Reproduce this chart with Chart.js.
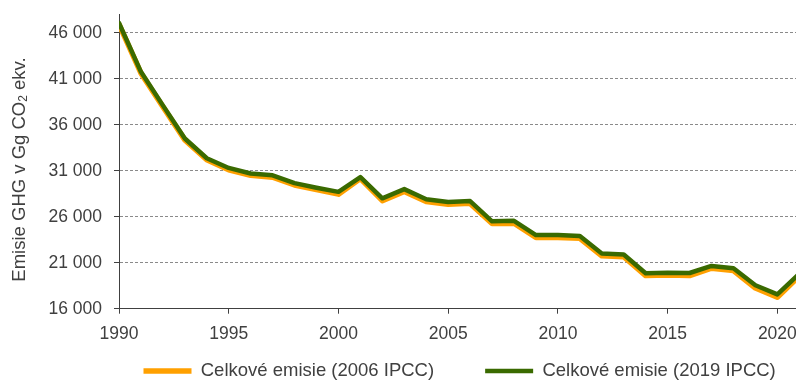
<!DOCTYPE html>
<html>
<head>
<meta charset="utf-8">
<script src="https://cdn.jsdelivr.net/npm/chart.js@4.4.1/dist/chart.umd.min.js"></script>
<style>
  html, body { margin: 0; padding: 0; background: #ffffff; }
  #c { display: block; }
</style>
</head>
<body>
<canvas id="c" width="796" height="381"></canvas>
<script>
// Emise skleníkových plynů (Gg CO2 ekv.), 1990–2021
const years = [1990, 1991, 1992, 1993, 1994, 1995, 1996, 1997, 1998, 1999,
               2000, 2001, 2002, 2003, 2004, 2005, 2006, 2007, 2008, 2009,
               2010, 2011, 2012, 2013, 2014, 2015, 2016, 2017, 2018, 2019,
               2020, 2021];

const emise2006 = [46900, 41600, 37950, 34350, 32200, 31100, 30500, 30300, 29450, 28950,
                   28450, 30150, 27750, 28750, 27650, 27350, 27450, 25250, 25300, 23750,
                   23750, 23650, 21750, 21650, 19600, 19650, 19600, 20400, 20150, 18250,
                   17250, 19550];

const emise2019 = [47050, 41750, 38100, 34500, 32350, 31300, 30700, 30500, 29650, 29150,
                   28700, 30300, 28000, 29000, 27900, 27600, 27700, 25500, 25550, 24000,
                   24000, 23900, 22000, 21900, 19850, 19900, 19880, 20650, 20400, 18550,
                   17550, 19800];

const seriesNames = ['Celkové emisie (2006 IPCC)', 'Celkové emisie (2019 IPCC)'];
const yTickValues = [16000, 21000, 26000, 31000, 36000, 41000, 46000];
const yTickLabels = ['16 000', '21 000', '26 000', '31 000', '36 000', '41 000', '46 000'];
const xTickValues = [1990, 1995, 2000, 2005, 2010, 2015, 2020];
const yTitleMain = 'Emisie GHG v Gg CO';
const yTitleSub = '2';
const yTitleEnd = ' ekv.';

const FONT = "'Liberation Sans', Arial, sans-serif";
const TICK_SIZE = 17.5;
const LABEL_SIZE = 18.5;
const TEXT = '#404040';
const ORANGE = '#FFA000';
const GREEN = '#3A6A00';
const LEGEND_GAP = 51;
const LEGEND_START = 143.5;   // x of the first legend swatch
const LEGEND_MID_Y = 371;     // vertical centre of the legend row

// rotated axis title with a real subscript
const yTitlePlugin = {
  id: 'yTitle',
  afterDraw(chart) {
    const { ctx, chartArea } = chart;
    const big = LABEL_SIZE + 'px ' + FONT;
    const small = Math.round(LABEL_SIZE * 0.65) + 'px ' + FONT;
    ctx.save();
    ctx.fillStyle = TEXT;
    ctx.textBaseline = 'middle';
    ctx.textAlign = 'left';
    ctx.font = big;
    const w1 = ctx.measureText(yTitleMain).width;
    const w3 = ctx.measureText(yTitleEnd).width;
    ctx.font = small;
    const w2 = ctx.measureText(yTitleSub).width;
    const total = w1 + w2 + w3;
    ctx.translate(20, (chartArea.top + chartArea.bottom) / 2 + 8);
    ctx.rotate(-Math.PI / 2);
    let x = -total / 2;
    ctx.font = big;
    ctx.fillText(yTitleMain, x, 0);
    x += w1;
    ctx.font = small;
    ctx.fillText(yTitleSub, x, 4);
    x += w2;
    ctx.font = big;
    ctx.fillText(yTitleEnd, x, 0);
    ctx.restore();
  }
};

// place the legend row under the plot, with wide spacing between entries
const legendPlacePlugin = {
  id: 'legendPlace',
  afterLayout(chart) {
    const lg = chart.legend;
    if (!lg || !lg.lineWidths) return;
    const w = lg.width;
    const left = (2 * LEGEND_START - LEGEND_GAP - w + lg.lineWidths[0]) / 2;
    lg.left = left;
    lg.right = left + w;
    lg.top = LEGEND_MID_Y - LABEL_SIZE / 2 - LEGEND_GAP;
    lg.bottom = chart.height;
    lg.height = lg.bottom - lg.top;
  }
};

const toPoints = (vals) => years.map((yr, i) => ({ x: yr, y: vals[i] }));

new Chart(document.getElementById('c'), {
  type: 'line',
  data: {
    datasets: [
      {
        label: seriesNames[0],
        data: toPoints(emise2006),
        borderColor: ORANGE,
        backgroundColor: ORANGE,
        borderWidth: 5.5,
        borderCapStyle: 'round',
        borderJoinStyle: 'round',
        pointRadius: 0,
        tension: 0,
        order: 1
      },
      {
        label: seriesNames[1],
        data: toPoints(emise2019),
        borderColor: GREEN,
        backgroundColor: GREEN,
        borderWidth: 4.5,
        borderCapStyle: 'round',
        borderJoinStyle: 'round',
        pointRadius: 0,
        tension: 0,
        order: 0
      }
    ]
  },
  options: {
    responsive: false,
    devicePixelRatio: 1,
    animation: false,
    layout: { padding: { top: 14.3, right: 0, bottom: 0, left: 0 } },
    plugins: {
      tooltip: { enabled: false },
      legend: {
        position: 'bottom',
        maxHeight: 38.3,
        labels: {
          font: { family: FONT, size: LABEL_SIZE },
          color: TEXT,
          usePointStyle: true,
          pointStyle: 'line',
          pointStyleWidth: 48,
          padding: LEGEND_GAP,
          sort: (a, b) => a.datasetIndex - b.datasetIndex
        }
      }
    },
    scales: {
      x: {
        type: 'linear',
        min: 1990,
        max: 2020.85,
        afterBuildTicks: (s) => { s.ticks = xTickValues.map(v => ({ value: v })); },
        afterFit: (s) => { s.height = 34; s.paddingLeft = 0; s.paddingRight = 0; },
        ticks: {
          font: { family: FONT, size: TICK_SIZE },
          color: TEXT,
          padding: 10,
          maxRotation: 0,
          autoSkip: false,
          callback: (v) => String(v)
        },
        grid: {
          drawOnChartArea: false,
          drawTicks: true,
          tickLength: 5,
          tickColor: TEXT,
          tickWidth: 1
        },
        border: { color: TEXT, width: 1 }
      },
      y: {
        min: 16000,
        max: 48000,
        afterBuildTicks: (s) => { s.ticks = yTickValues.map(v => ({ value: v })); },
        afterFit: (s) => { s.width = 119; s.paddingTop = 0; s.paddingBottom = 0; },
        ticks: {
          font: { family: FONT, size: TICK_SIZE },
          color: TEXT,
          padding: 12,
          autoSkip: false,
          callback: (v) => {
            const i = yTickValues.indexOf(v);
            return i >= 0 ? yTickLabels[i] : '';
          }
        },
        grid: {
          color: '#8a8a8a',
          lineWidth: 1,
          drawTicks: true,
          tickLength: 5,
          tickColor: TEXT,
          tickBorderDash: []
        },
        border: { color: TEXT, width: 1, dash: [3, 2] }
      }
    }
  },
  plugins: [yTitlePlugin, legendPlacePlugin]
});
</script>
</body>
</html>
